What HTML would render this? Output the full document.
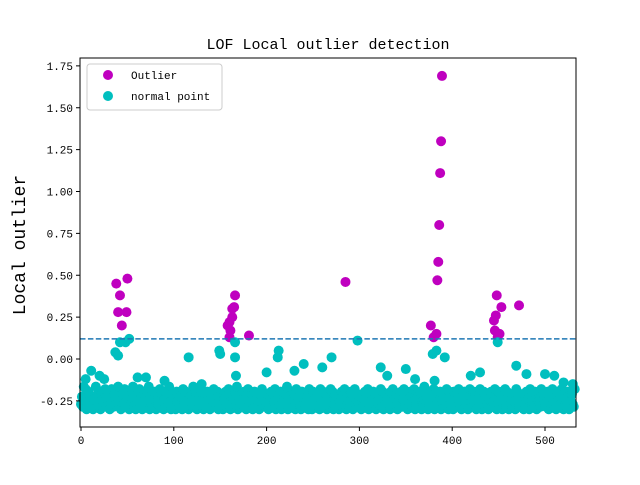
<!DOCTYPE html>
<html><head><meta charset="utf-8"><style>
body{margin:0;background:#fff}
svg text{font-family:"Liberation Mono","Noto Sans CJK SC",monospace}
</style></head><body>
<svg id="c" width="640" height="480">
<rect width="640" height="480" fill="#fff"/>
<g id="plot"></g>
<text x="328" y="49" text-anchor="middle" font-size="15">LOF Local outlier detection</text>
<text transform="translate(25,245) rotate(-90)" text-anchor="middle" font-size="18">Local outlier</text>
<g>
<rect x="87" y="64" width="135" height="46" fill="#fff" fill-opacity="0.8" stroke="#ccc" rx="3"/>
<circle cx="108" cy="75" r="5" fill="#bf00bf"/>
<text x="131" y="79" font-size="11">Outlier</text>
<circle cx="108" cy="96" r="5" fill="#00bfbf"/>
<text x="131" y="100" font-size="11">normal point</text>
</g>
</svg>
<script>
const outX=[38,42,40,44,50,49,158,160,161,163,163,165,166,160,181,285,377,380,383,384,385,386,387,388,389,445,447,446,448,449,451,453,472];
const outY=[0.45,0.38,0.28,0.2,0.48,0.28,0.2,0.22,0.17,0.25,0.3,0.31,0.38,0.13,0.14,0.46,0.2,0.13,0.15,0.47,0.58,0.8,1.11,1.3,1.69,0.23,0.26,0.17,0.38,0.13,0.15,0.31,0.32];
const baseCodes="cfbjdiachgbdfaecjbdhcagbedibfhcaeidbgcfhjbdaegcib"+
"dbgafchjbeacdhibfaegcbhdjafcbgehadcfibgdaehcbfjdag"+
"cbeahdgbfcaidehbcagfdbjechadbficgaebdhcfagbdiecbha"+
"fbdcagehbcidafgbehcjadbfcgehbadicfbgaehdcbfagdibce"+
"bdgacfhebdiacgbfhaedcbgjafdcbehgaicdfbahgecbdfaigc"+
"ahcebdgfaicbhdegacfbidhacgebfadchbgieacfdbhgaeicbd"+
"dcfagbehcdiabfgchebadgcfibhaedcgbfahdicebgacfdhbei"+
"bgdaechfbdiacgfbehadcjbgfacdhebiagcfdbhaegcbdifahc"+
"cfahdbgeicbafdhgbcaeidfbhcgadebifachgbdcaefhbdgica"+
"ehbdcafgibhdaecgbfdaihcbegfdacbhgeaidcfbhgaedcbifg"+
"gcbdhaefbicdgahfbecidagcbhfaedgcbi";
const extraX=[5,11,25,37,40,48,42,52,116,149,150,166,166,167,212,213,270,298,323,379,383,381,392,449,469,20,70,130,200,240,350,420,500,520,61,90,230,260,330,360,430,480,510,530];
const extraY=[-0.12,-0.07,-0.12,0.04,0.02,0.1,0.1,0.12,0.01,0.05,0.03,0.1,0.01,-0.1,0.01,0.05,0.01,0.11,-0.05,0.03,0.05,-0.13,0.01,0.1,-0.04,-0.1,-0.11,-0.15,-0.08,-0.03,-0.06,-0.1,-0.09,-0.14,-0.11,-0.13,-0.07,-0.05,-0.1,-0.12,-0.08,-0.09,-0.1,-0.15];
const xTicks=[0,100,200,300,400,500];
const yTicks=[-0.25,0,0.25,0.5,0.75,1,1.25,1.5,1.75];
const thresh=0.12;

const L=80,R=576,T=58,B=427;
const xs=v=>81+(v)*0.928;
const ys=v=>359-v*167.5;
const NS="http://www.w3.org/2000/svg";
const svg=document.getElementById('c'), g=document.getElementById('plot');
function mk(t,a,p){const e=document.createElementNS(NS,t);for(const k in a)e.setAttribute(k,a[k]);(p||g).appendChild(e);return e;}
outX.forEach((x,i)=>{const e=mk('circle',{cx:xs(x),cy:ys(outY[i]),r:5,fill:'#bf00bf'});

});
for(let i=0;i<baseCodes.length;i++){const v=-0.30+(baseCodes.charCodeAt(i)-97)*0.015;
const e=mk('circle',{cx:xs(i),cy:ys(v),r:5,fill:'#00bfbf'});

}
extraX.forEach((x,i)=>{const e=mk('circle',{cx:xs(x),cy:ys(extraY[i]),r:5,fill:'#00bfbf'});

});
const th=mk('line',{x1:L,x2:R,y1:ys(thresh),y2:ys(thresh),stroke:'#1f77b4','stroke-width':1.5,'stroke-dasharray':'5.5,2.4'});


const fr=mk('rect',{x:L,y:T,width:R-L,height:B-T,fill:'none',stroke:'#000','stroke-width':1});


xTicks.forEach(t=>{mk('line',{x1:xs(t),x2:xs(t),y1:B,y2:B+4,stroke:'#000'});
const e=mk('text',{x:xs(t),y:B+17,'text-anchor':'middle','font-size':11},svg);e.textContent=t;

});
yTicks.forEach(t=>{mk('line',{x1:L-4,x2:L,y1:ys(t),y2:ys(t),stroke:'#000'});
const e=mk('text',{x:L-7,y:ys(t)+4,'text-anchor':'end','font-size':11},svg);e.textContent=t.toFixed(2);

});
</script>
</body></html>
